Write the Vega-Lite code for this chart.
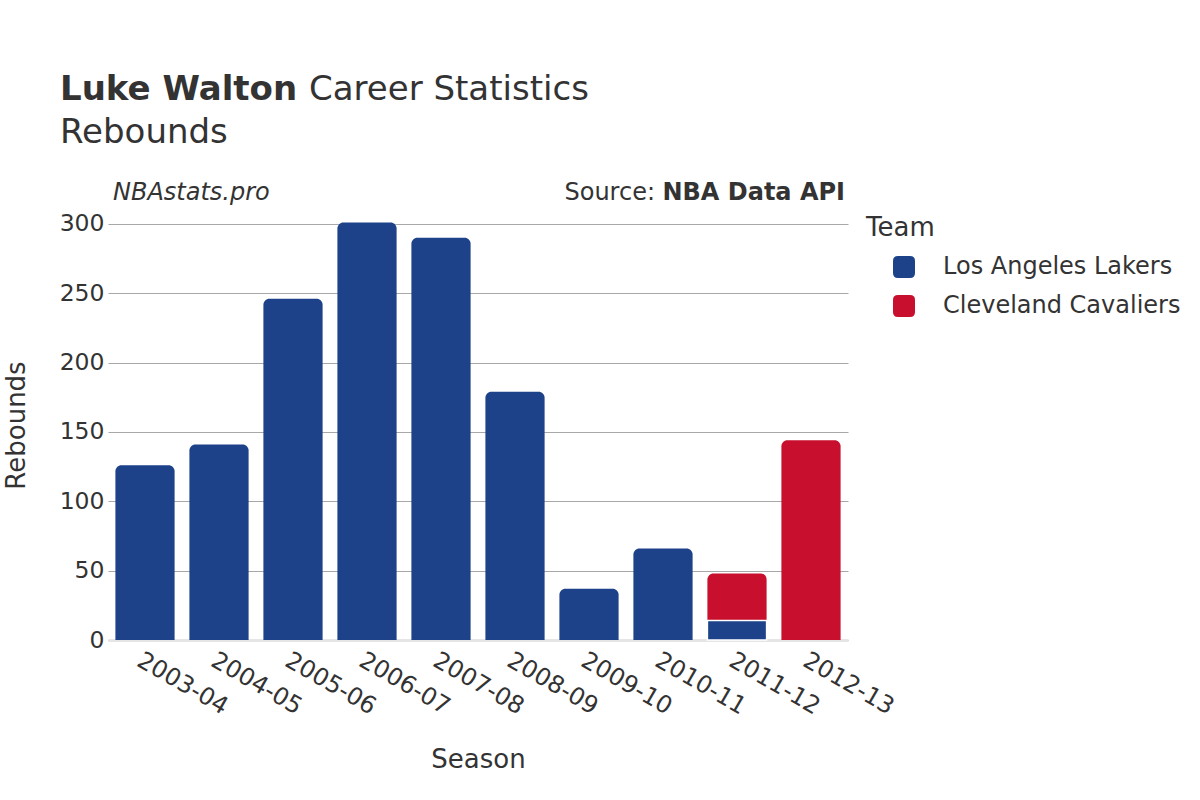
{
  "$schema": "https://vega.github.io/schema/vega-lite/v6.json",
  "width": 740,
  "height": 430,
  "autosize": {"type": "none"},
  "padding": {"left": 108, "top": 210, "right": 352, "bottom": 160},
  "background": "white",
  "config": {
    "font": "DejaVu Sans",
    "view": {"stroke": null},
    "text": {"font": "DejaVu Sans", "color": "#333"}
  },
  "datasets": {
    "stats": [
      {"season": "2003-04", "team": "Los Angeles Lakers", "rebounds": 126},
      {"season": "2004-05", "team": "Los Angeles Lakers", "rebounds": 141},
      {"season": "2005-06", "team": "Los Angeles Lakers", "rebounds": 246},
      {"season": "2006-07", "team": "Los Angeles Lakers", "rebounds": 301},
      {"season": "2007-08", "team": "Los Angeles Lakers", "rebounds": 290},
      {"season": "2008-09", "team": "Los Angeles Lakers", "rebounds": 179},
      {"season": "2009-10", "team": "Los Angeles Lakers", "rebounds": 37},
      {"season": "2010-11", "team": "Los Angeles Lakers", "rebounds": 66},
      {"season": "2011-12", "team": "Los Angeles Lakers", "rebounds": 14},
      {"season": "2011-12", "team": "Cleveland Cavaliers", "rebounds": 34},
      {"season": "2012-13", "team": "Cleveland Cavaliers", "rebounds": 144}
    ]
  },
  "layer": [
    {
      "data": {"name": "stats"},
      "transform": [
        {"stack": "rebounds", "groupby": ["season"], "sort": [{"field": "team", "order": "descending"}], "as": ["r0", "r1"]},
        {"joinaggregate": [{"op": "max", "field": "r1", "as": "top"}], "groupby": ["season"]},
        {"filter": "datum.r1 == datum.top"}
      ],
      "mark": {"type": "bar", "cornerRadiusTopLeft": 6, "cornerRadiusTopRight": 6},
      "encoding": {
        "x": {
          "field": "season", "type": "nominal",
          "scale": {"paddingInner": 0.2, "paddingOuter": 0.1},
          "axis": {
            "title": "Season", "titleFontSize": 26, "titleFontWeight": "normal", "titleColor": "#333", "titlePadding": 28,
            "labelAngle": 30, "labelFontSize": 24, "labelColor": "#333", "labelPadding": 8,
            "ticks": false, "domainColor": "#e5e5e5", "domainWidth": 3, "grid": false
          }
        },
        "y": {
          "field": "r1", "type": "quantitative",
          "scale": {"domain": [0, 310], "nice": false},
          "axis": {
            "title": "Rebounds", "titleFontSize": 26, "titleFontWeight": "normal", "titleColor": "#333", "titlePadding": 30,
            "values": [0, 50, 100, 150, 200, 250, 300],
            "labelFontSize": 23.5, "labelColor": "#333", "labelPadding": 4,
            "ticks": false, "domain": false, "gridColor": "#a8a8a8", "gridWidth": 1
          }
        },
        "y2": {"field": "r0"},
        "color": {
          "field": "team", "type": "nominal",
          "scale": {"domain": ["Los Angeles Lakers", "Cleveland Cavaliers"], "range": ["#1D428A", "#C8102E"]},
          "legend": {
            "title": null, "orient": "none", "legendX": 784, "legendY": 45,
            "symbolType": "M -0.55 -1 L 0.55 -1 Q 1 -1 1 -0.55 L 1 0.55 Q 1 1 0.55 1 L -0.55 1 Q -1 1 -1 0.55 L -1 -0.55 Q -1 -1 -0.55 -1 Z",
            "symbolSize": 484, "symbolStrokeWidth": 0, "symbolOpacity": 1,
            "labelFontSize": 24, "labelColor": "#333", "labelOffset": 27, "labelLimit": 0, "rowPadding": 15, "padding": 0
          }
        }
      }
    },
    {
      "data": {"name": "stats"},
      "transform": [
        {"stack": "rebounds", "groupby": ["season"], "sort": [{"field": "team", "order": "descending"}], "as": ["r0", "r1"]},
        {"joinaggregate": [{"op": "max", "field": "r1", "as": "top"}], "groupby": ["season"]},
        {"filter": "datum.r1 != datum.top"}
      ],
      "mark": {"type": "bar", "stroke": "white", "strokeWidth": 1.5},
      "encoding": {
        "x": {"field": "season", "type": "nominal"},
        "y": {"field": "r1", "type": "quantitative"},
        "y2": {"field": "r0"},
        "color": {"field": "team", "type": "nominal"}
      }
    },
    {
      "data": {"values": [{}]},
      "mark": {"type": "text", "align": "left", "baseline": "alphabetic", "fontSize": 34, "fontWeight": "bold", "color": "#333"},
      "encoding": {"x": {"value": -48}, "y": {"value": -110}, "text": {"value": "Luke Walton"}}
    },
    {
      "data": {"values": [{}]},
      "mark": {"type": "text", "align": "left", "baseline": "alphabetic", "fontSize": 34, "color": "#333"},
      "encoding": {"x": {"value": 201}, "y": {"value": -110}, "text": {"value": "Career Statistics"}}
    },
    {
      "data": {"values": [{}]},
      "mark": {"type": "text", "align": "left", "baseline": "alphabetic", "fontSize": 34, "color": "#333"},
      "encoding": {"x": {"value": -48}, "y": {"value": -67}, "text": {"value": "Rebounds"}}
    },
    {
      "data": {"values": [{}]},
      "mark": {"type": "text", "align": "left", "baseline": "alphabetic", "fontSize": 24, "fontStyle": "italic", "color": "#333"},
      "encoding": {"x": {"value": 5}, "y": {"value": -10}, "text": {"value": "NBAstats.pro"}}
    },
    {
      "data": {"values": [{}]},
      "mark": {"type": "text", "align": "right", "baseline": "alphabetic", "fontSize": 24, "color": "#333"},
      "encoding": {"x": {"value": 547}, "y": {"value": -10}, "text": {"value": "Source:"}}
    },
    {
      "data": {"values": [{}]},
      "mark": {"type": "text", "align": "right", "baseline": "alphabetic", "fontSize": 24, "fontWeight": "bold", "color": "#333"},
      "encoding": {"x": {"value": 737}, "y": {"value": -10}, "text": {"value": "NBA Data API"}}
    },
    {
      "data": {"values": [{}]},
      "mark": {"type": "text", "align": "left", "baseline": "alphabetic", "fontSize": 26, "color": "#333"},
      "encoding": {"x": {"value": 758}, "y": {"value": 26}, "text": {"value": "Team"}}
    }
  ]
}
